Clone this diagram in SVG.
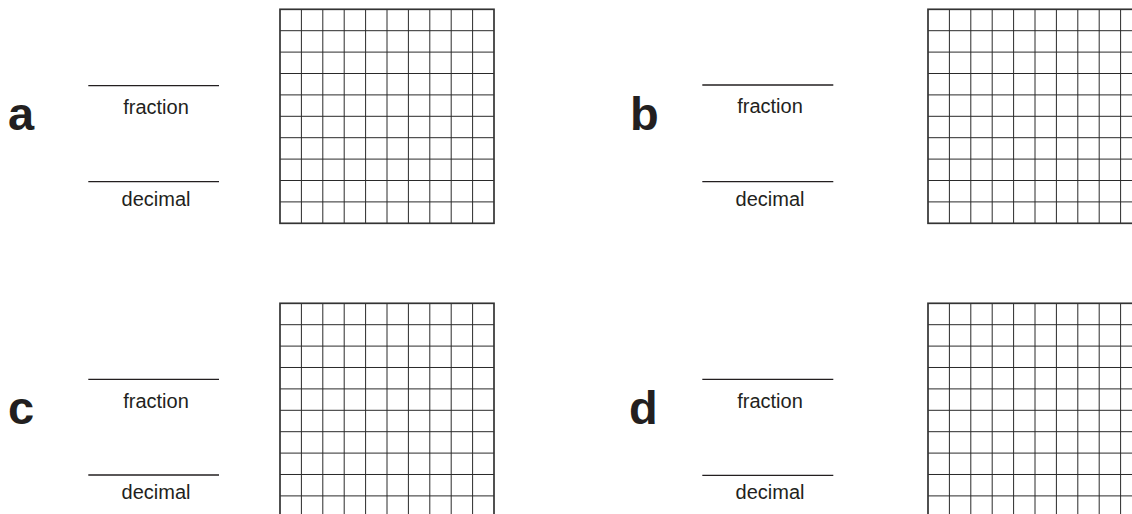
<svg xmlns="http://www.w3.org/2000/svg" xmlns:xlink="http://www.w3.org/1999/xlink" width="1132" height="514" viewBox="0 0 1132 514">
<style>
.lbl{font-family:"Liberation Sans",Arial,sans-serif;font-weight:bold;font-size:47px;fill:#231f20}
.cap{font-family:"Liberation Sans",Arial,sans-serif;font-size:20px;fill:#231f20;text-anchor:middle}
.blank{stroke:#231f20;stroke-width:1.3;fill:none}
.gi{stroke:#2a2a2a;stroke-width:1;fill:none}
.go{stroke:#333;stroke-width:1.7;fill:none}
</style>
<defs>
<g id="grid">
<path class="gi" d="M21.4 0V214M42.8 0V214M64.2 0V214M85.6 0V214M107 0V214M128.4 0V214M149.8 0V214M171.2 0V214M192.6 0V214M0 21.4H214M0 42.8H214M0 64.2H214M0 85.6H214M0 107H214M0 128.4H214M0 149.8H214M0 171.2H214M0 192.6H214"/>
<rect class="go" x="0" y="0" width="214" height="214"/>
</g>
</defs>
<rect width="1132" height="514" fill="#fff"/>
<g id="item-a">
<text class="lbl" x="8" y="130">a</text>
<line class="blank" x1="88.3" y1="85.7" x2="219" y2="85.7"/>
<text class="cap" x="156" y="114.3">fraction</text>
<line class="blank" x1="88.3" y1="181.7" x2="219" y2="181.7"/>
<text class="cap" x="156" y="205.7">decimal</text>
<use xlink:href="#grid" href="#grid" transform="translate(280,9.3)"/>
</g>
<g id="item-b">
<text class="lbl" x="630" y="130">b</text>
<line class="blank" x1="702.3" y1="85" x2="833.3" y2="85"/>
<text class="cap" x="770" y="113.3">fraction</text>
<line class="blank" x1="702.3" y1="181.7" x2="833.3" y2="181.7"/>
<text class="cap" x="770" y="205.7">decimal</text>
<use xlink:href="#grid" href="#grid" transform="translate(928,9.3)"/>
</g>
<g id="item-c">
<text class="lbl" x="8" y="423.5">c</text>
<line class="blank" x1="88.3" y1="379.3" x2="219" y2="379.3"/>
<text class="cap" x="156" y="408.3">fraction</text>
<line class="blank" x1="88.3" y1="475" x2="219" y2="475"/>
<text class="cap" x="156" y="499.3">decimal</text>
<use xlink:href="#grid" href="#grid" transform="translate(280,303.3)"/>
</g>
<g id="item-d">
<text class="lbl" x="629" y="424">d</text>
<line class="blank" x1="702.3" y1="379.3" x2="833.3" y2="379.3"/>
<text class="cap" x="770" y="407.7">fraction</text>
<line class="blank" x1="702.3" y1="475.3" x2="833.3" y2="475.3"/>
<text class="cap" x="770" y="499">decimal</text>
<use xlink:href="#grid" href="#grid" transform="translate(928,303.3)"/>
</g>
<g id="connectors"/>
</svg>
